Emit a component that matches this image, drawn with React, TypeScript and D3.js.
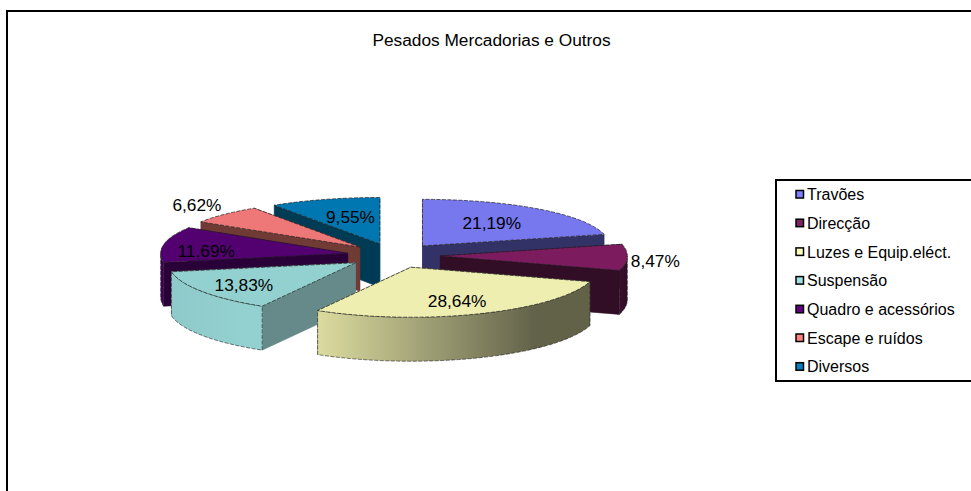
import React from "react";
import * as d3 from "d3";

const categories = ["Travões", "Direcção", "Luzes e Equip.eléct.", "Suspensão", "Quadro e acessórios", "Escape e ruídos", "Diversos"];
const values = [21.19, 8.47, 28.64, 13.83, 11.69, 6.62, 9.55];
const valueLabels = ["21,19%", "8,47%", "28,64%", "13,83%", "11,69%", "6,62%", "9,55%"];
const title = "Pesados Mercadorias e Outros";

const topColors = ["#7777ee", "#7b1f5f", "#eeeeb0", "#93d0d0", "#520070", "#ee7777", "#0077b0"];
const legendColors = ["#8080ff", "#802060", "#ffffc0", "#a0e0e0", "#600080", "#ff8080", "#0080c0"];
const radialWallColors = ["#333366", "#300c26", "#66664a", "#668a8a", "#2c0038", "#703a34", "#003a56"];
const outerWallLeft = ["#333366", "#3c1030", "#dcdca0", "#8fcaca", "#3e0056", "#703a34", "#003a56"];
const outerWallRight = ["#333366", "#300c26", "#62624a", "#93d0d0", "#3e0056", "#703a34", "#003a56"];
const labelRadii = [0.6, 1.15, 0.67, 0.73, 0.77, 1.19, 0.53];
const labelShiftY = [-1, 3, 2, 1, 5, -4, -3];
const labelShiftX = [0, 0, 0, 0, 0, -2, 0];

const W = 971, H = 491;
const CX = 393.6, CY = 255.6, RX = 187, RY = 50, EXPLODE = 0.25, DEPTH = 44, PERSP = 0.05;
const ROW0 = 194.5, ROW = 28.7;

const scaleX = d3.scaleLinear().domain([-1, 1]).range([CX - RX, CX + RX]);
const project = (x: number, y: number, z = 0): [number, number] => {
  const f = y > 0 ? 1 - PERSP * y : 1;
  return [scaleX(x), CY - RY * y * f + z * DEPTH * f];
};
const polar = (a: number, r: number, ox: number, oy: number): [number, number] => [ox + r * Math.sin(a), oy + r * Math.cos(a)];
const arcPts = (a0: number, a1: number) => {
  const n = Math.max(2, Math.ceil(Math.abs(a1 - a0) / 0.03));
  return d3.range(n + 1).map((i) => a0 + ((a1 - a0) * i) / n);
};
const line = d3.line<[number, number]>();

const slices = d3.pie<number>().sort(null).startAngle(0).endAngle(2 * Math.PI)(values).map((d) => {
  const mid = (d.startAngle + d.endAngle) / 2;
  const ox = EXPLODE * Math.sin(mid), oy = EXPLODE * Math.cos(mid);
  return { ...d, mid, ox, oy, i: d.index };
});
const paintOrder = [...slices].sort((a, b) => b.oy - a.oy);

export default function App() {
  return (
    <svg width={W} height={H} style={{ position: "absolute", left: 0, top: 0, display: "block" }} fontFamily="'Liberation Sans', Arial, sans-serif">
      <defs>
        {slices.map((s) => (
          <linearGradient key={s.i} id={`wall${s.i}`} x1="0" x2="1" y1="0" y2="0">
            <stop offset="0" stopColor={outerWallLeft[s.i]} />
            <stop offset="0.8" stopColor={outerWallRight[s.i]} />
            <stop offset="1" stopColor={outerWallRight[s.i]} />
          </linearGradient>
        ))}
        <filter id="soft" x="-5%" y="-5%" width="110%" height="110%">
          <feGaussianBlur stdDeviation="0.35" />
        </filter>
      </defs>
      <rect width={W} height={H} fill="#fff" />
      <path d={`M7 ${H}V11H${W}`} fill="none" stroke="#000" strokeWidth={2} />
      <text x={491.5} y={46} fontSize={17.3} textAnchor="middle" fill="#000">{title}</text>

      <g filter="url(#soft)">
        {paintOrder.map((s) => {
          const apexTop = project(s.ox, s.oy);
          const apexBottom = project(s.ox, s.oy, 1);
          const edge = (a: number, z: number) => {
            const [x, y] = polar(a, 1, s.ox, s.oy);
            return project(x, y, z);
          };
          const radial = (a: number) =>
            (line([apexTop, edge(a, 0), edge(a, 1), apexBottom]) ?? "") + "Z";
          const from = Math.max(s.startAngle, Math.PI / 2);
          const to = Math.min(s.endAngle, (3 * Math.PI) / 2);
          const hasOuter = to > from;
          const outerAngles = hasOuter ? arcPts(from, to) : [];
          const outer = hasOuter
            ? (line([...outerAngles.map((a) => edge(a, 0)), ...[...outerAngles].reverse().map((a) => edge(a, 1))]) ?? "") + "Z"
            : "";
          const top = (line([apexTop, ...arcPts(s.startAngle, s.endAngle).map((a) => edge(a, 0))]) ?? "") + "Z";
          return (
            <g key={s.i}>
              <path d={radial(s.startAngle)} fill={radialWallColors[s.i]} stroke={radialWallColors[s.i]} strokeWidth={0.5} />
              <path d={radial(s.endAngle)} fill={radialWallColors[s.i]} stroke={radialWallColors[s.i]} strokeWidth={0.5} />
              {hasOuter && <path d={outer} fill={`url(#wall${s.i})`} stroke="#222" strokeWidth={0.6} strokeDasharray="4 1.5" />}
              <path d={top} fill={topColors[s.i]} stroke="#222" strokeWidth={0.7} strokeDasharray="4 1.5" />
            </g>
          );
        })}
      </g>

      {slices.map((s) => {
        const r = labelRadii[s.i];
        const [x, y] = project(s.ox + r * Math.sin(s.mid), s.oy + r * Math.cos(s.mid));
        return (
          <text key={s.i} x={x + labelShiftX[s.i]} y={y + labelShiftY[s.i]} dy="0.36em" fontSize={17.3} textAnchor="middle" fill="#000">
            {valueLabels[s.i]}
          </text>
        );
      })}

      <rect x={776} y={180} width={W} height={201} fill="#fff" stroke="#000" strokeWidth={2} />
      {categories.map((c, i) => {
        const y = ROW0 + i * ROW;
        return (
          <g key={c}>
            <rect x={796} y={y - 4} width={7.5} height={7.5} fill={legendColors[i]} stroke="#000" strokeWidth={1.5} />
            <text x={807} y={y} dy="0.36em" fontSize={16} fill="#000">{c}</text>
          </g>
        );
      })}
    </svg>
  );
}
